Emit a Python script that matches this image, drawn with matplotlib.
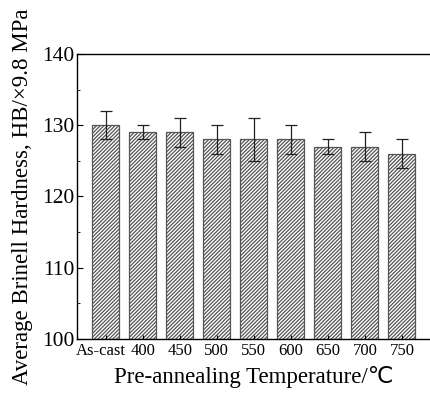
import matplotlib
matplotlib.use('Agg')
import matplotlib.pyplot as plt
import matplotlib.transforms as mtransforms
from matplotlib.ticker import MultipleLocator

# Data
labels = ['As-cast', '400', '450', '500', '550', '600', '650', '700', '750']
hardness = [130, 129, 129, 128, 128, 128, 127, 127, 126]
errors = [2, 1, 2, 2, 3, 2, 1, 2, 2]

plt.rcParams['font.family'] = ['Liberation Serif', 'DejaVu Sans', 'Noto Sans CJK SC']
plt.rcParams['hatch.linewidth'] = 0.9
plt.rcParams['hatch.color'] = '#222222'

fig = plt.figure(figsize=(4.30, 3.94), dpi=100)
ax = fig.add_axes([0.179, 0.1396, 0.821, 0.7234])

x = list(range(len(labels)))
ax.bar(x, [h - 100 for h in hardness], bottom=100, width=0.73,
       color='white', edgecolor='#555555', linewidth=0.9, hatch='/////////')
ax.errorbar(x, hardness, yerr=errors, fmt='none', ecolor='#222222',
            elinewidth=0.9, capsize=4, capthick=0.9)

ax.set_xlim(-0.78, 8.76)
ax.set_ylim(100, 140)
ax.set_xticks(x)
ax.set_xticklabels(labels, fontsize=12)
ax.yaxis.set_major_locator(MultipleLocator(10))
ax.yaxis.set_minor_locator(MultipleLocator(5))
ax.tick_params(axis='y', which='major', direction='in', length=4, labelsize=15.5, pad=2)
ax.tick_params(axis='y', which='minor', direction='in', length=2.5)
ax.tick_params(axis='x', direction='in', length=3, pad=3)

# nudge the first label left so it clears "400"
first = ax.get_xticklabels()[0]
first.set_transform(first.get_transform() +
                    mtransforms.ScaledTranslation(-5 / 100, 0, fig.dpi_scale_trans))

ax.spines['right'].set_visible(False)
for s in ['left', 'top', 'bottom']:
    ax.spines[s].set_linewidth(1.0)

ax.set_xlabel('Pre-annealing Temperature/℃', fontsize=16.5, labelpad=5)
ax.set_ylabel('Average Brinell Hardness, HB/×9.8 MPa', fontsize=16.5, labelpad=6)

plt.savefig('out.png', dpi=100)
